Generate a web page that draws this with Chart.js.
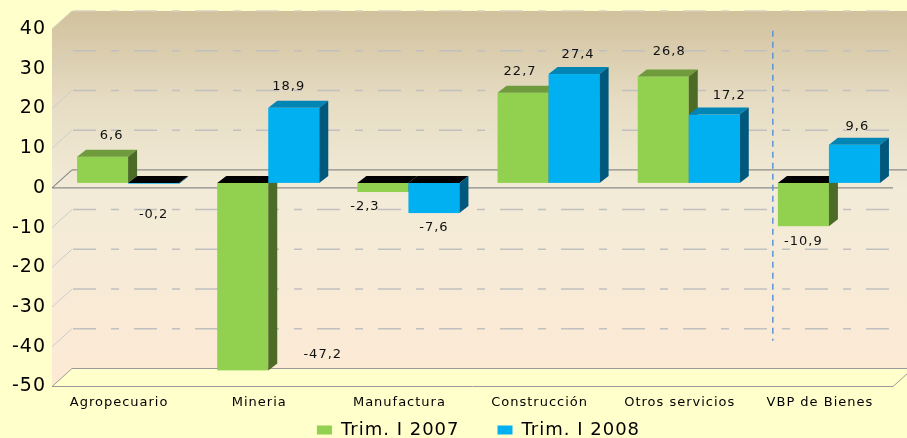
<!DOCTYPE html>
<html>
<head>
<meta charset="utf-8">
<script src="https://cdn.jsdelivr.net/npm/chart.js@4.4.1/dist/chart.umd.min.js"></script>
<style>
  html,body{margin:0;padding:0;background:#FFFFCC}
  #wrap{width:907px;height:438px}
</style>
</head>
<body>
<div id="wrap"><canvas id="chart" width="907" height="438"></canvas></div>
<script>
/* Variación por sector: Trim. I 2007 vs Trim. I 2008 */

var categories = ['Agropecuario','Mineria','Manufactura','Construcción','Otros servicios','VBP de Bienes'];
var trim2007   = [6.6, -47.2, -2.3, 22.7, 26.8, -10.9];
var trim2008   = [-0.2, 18.9, -7.6, 27.4, 17.2, 9.6];
var seriesNames = ['Trim. I 2007','Trim. I 2008'];
var yMin = -50, yMax = 40, yStep = 10;

// 3D look: offsets of the front edge / back wall from the bar plane, and bar depth
var FRONT = {dx:-6, dy:5};
var BACK  = {dx:14, dy:-13};
var DEPTH = {dx:9, dy:-7};
var FONT = '"DejaVu Sans", Verdana, sans-serif';

var faces = [
  {front:'#92D050', top:'#6F9B3C', side:'#4B6B27'},
  {front:'#00B0F0', top:'#0085B5', side:'#00587D'}
];

// small hand nudges for value labels (Excel placed a few of them oddly)
var labelNudge = [
  [[5,0],[80,-31],[-18,0],[-7,0],[2,-4],[0,0]],
  [[0,16],[-9,0],[0,0],[0,2],[11,2],[-1,3]]
];

function poly(ctx, pts, fill, stroke){
  ctx.beginPath();
  ctx.moveTo(pts[0][0], pts[0][1]);
  for(var i=1;i<pts.length;i++) ctx.lineTo(pts[i][0], pts[i][1]);
  ctx.closePath();
  if(fill){ ctx.fillStyle=fill; ctx.fill(); }
  if(stroke){ ctx.strokeStyle=stroke; ctx.lineWidth=1; ctx.stroke(); }
}

function fmt(v){ return v.toFixed(1).replace('.', ','); }

var scene3d = {
  id:'scene3d',
  beforeLayout:function(chart){ chart.ctx.letterSpacing='1px'; },
  afterLayout:function(chart){
    // legend: a bit right of centre and lower than Chart.js would put it
    var L=chart.legend;
    if(L){ L.left+=29; L.right+=29; L.top-=28; L.bottom=chart.height; }
  },
  beforeDraw:function(chart){
    var ctx=chart.ctx, a=chart.chartArea, ys=chart.scales.y;
    ctx.letterSpacing='1px';
    ctx.save();
    ctx.fillStyle='#FFFFCC';
    ctx.fillRect(0,0,chart.width,chart.height);

    var yT=ys.getPixelForValue(yMax), yB=ys.getPixelForValue(yMin);
    var bxL=a.left+BACK.dx, bxR=a.right+BACK.dx;
    var fxL=a.left+FRONT.dx, fxR=a.right+FRONT.dx;

    var g=ctx.createLinearGradient(0,yT+BACK.dy,0,yB+BACK.dy);
    g.addColorStop(0,'#D1C19D');
    g.addColorStop(0.25,'#E6DCC3');
    g.addColorStop(0.5,'#F2EBD7');
    g.addColorStop(1,'#FCEAD5');

    // back wall + left side wall
    poly(ctx,[[bxL,yT+BACK.dy],[bxR,yT+BACK.dy],[bxR,yB+BACK.dy],[bxL,yB+BACK.dy]],g);
    poly(ctx,[[fxL,yT+FRONT.dy],[bxL,yT+BACK.dy],[bxL,yB+BACK.dy],[fxL,yB+FRONT.dy]],g);
    ctx.strokeStyle='#D6CEBC'; ctx.lineWidth=1;
    ctx.beginPath(); ctx.moveTo(fxL,yT+FRONT.dy); ctx.lineTo(bxL,yT+BACK.dy); ctx.stroke();

    // gridlines on the back wall, diagonals on the side wall
    for(var v=yMin+yStep; v<=yMax; v+=yStep){
      if(v===0) continue;
      var py=ys.getPixelForValue(v);
      ctx.strokeStyle= v===yMax ? '#D8D0BE' : '#C0C0C0';
      ctx.lineWidth=1.5;
      ctx.setLineDash([23,15,8,15]);
      ctx.beginPath(); ctx.moveTo(bxL+1,py+BACK.dy); ctx.lineTo(a.right-3,py+BACK.dy); ctx.stroke();
      ctx.setLineDash([]);
      ctx.lineWidth=1;
      if(v!==yMax){
        ctx.strokeStyle='#CDCDCD';
        ctx.beginPath(); ctx.moveTo(fxL,py+FRONT.dy); ctx.lineTo(bxL,py+BACK.dy); ctx.stroke();
      }
    }

    // floor
    poly(ctx,[[fxL,yB+FRONT.dy],[fxR,yB+FRONT.dy],[bxR,yB+BACK.dy],[bxL,yB+BACK.dy]],'#FFFFCC','#9A9A9A');

    // zero plane edges
    var y0=ys.getPixelForValue(0);
    ctx.strokeStyle='#8C8C8C'; ctx.lineWidth=1.2;
    ctx.beginPath();
    ctx.moveTo(bxL,y0+BACK.dy); ctx.lineTo(chart.width,y0+BACK.dy);
    ctx.moveTo(fxL,y0+FRONT.dy); ctx.lineTo(fxR,y0+FRONT.dy);
    ctx.moveTo(fxL,y0+FRONT.dy); ctx.lineTo(bxL,y0+BACK.dy);
    ctx.stroke();
    ctx.restore();
  },
  beforeDatasetsDraw:function(chart){
    var ctx=chart.ctx;
    ctx.save();
    categories.forEach(function(c,i){
      chart.data.datasets.forEach(function(ds,d){
        var p=chart.getDatasetMeta(d).data[i].getProps(['x','y','base','width'],true);
        var v=ds.data[i], col=faces[d];
        var l=p.x-p.width/2, r=p.x+p.width/2;
        var t=Math.min(p.y,p.base), b=Math.max(p.y,p.base);
        ctx.fillStyle=col.front;
        ctx.fillRect(l,t,r-l,b-t);
        poly(ctx,[[l,t],[r,t],[r+DEPTH.dx,t+DEPTH.dy],[l+DEPTH.dx,t+DEPTH.dy]], v<0?'#000000':col.top);
        poly(ctx,[[r,t],[r+DEPTH.dx,t+DEPTH.dy],[r+DEPTH.dx,b+DEPTH.dy],[r,b]], col.side);
      });
    });
    ctx.restore();
    return false;
  },
  afterDraw:function(chart){
    var ctx=chart.ctx, xs=chart.scales.x, ys=chart.scales.y;
    ctx.save();
    // dashed separator before the total
    ctx.strokeStyle='#5B93D8'; ctx.lineWidth=1.5; ctx.setLineDash([6,5]);
    var sx=xs.getPixelForValue(4.5)+BACK.dx;
    ctx.beginPath();
    ctx.moveTo(sx, ys.getPixelForValue(35)+BACK.dy);
    ctx.lineTo(sx, ys.getPixelForValue(-43)+BACK.dy);
    ctx.stroke();
    ctx.setLineDash([]);

    // value labels
    ctx.font='13px '+FONT;
    ctx.fillStyle='#111';
    ctx.textAlign='center'; ctx.textBaseline='middle';
    chart.data.datasets.forEach(function(ds,d){
      chart.getDatasetMeta(d).data.forEach(function(bar,i){
        var v=ds.data[i], p=bar.getProps(['x','y','base'],true);
        var n=labelNudge[d][i];
        var lx, ly;
        if(v>=0){ lx=p.x+4; ly=Math.min(p.y,p.base)-21; }
        else { lx=p.x; ly=Math.max(p.y,p.base)+15; }
        ctx.fillText(fmt(v), lx+n[0], ly+n[1]);
      });
    });
    ctx.restore();
  }
};

Chart.defaults.color='#000';
Chart.defaults.font.family=FONT;

new Chart(document.getElementById('chart'), {
  type:'bar',
  data:{
    labels:categories,
    datasets:[
      {label:seriesNames[0], data:trim2007, backgroundColor:faces[0].front, borderColor:faces[0].front, borderWidth:0},
      {label:seriesNames[1], data:trim2008, backgroundColor:faces[1].front, borderColor:faces[1].front, borderWidth:0}
    ]
  },
  options:{
    responsive:false,
    animation:false,
    categoryPercentage:0.728,
    barPercentage:1,
    layout:{padding:{top:24,right:8,bottom:0,left:0}},
    plugins:{
      legend:{
        position:'bottom',
        maxHeight:27,
        labels:{boxWidth:15, boxHeight:9, padding:38, font:{size:18, family:FONT}, color:'#000'}
      },
      tooltip:{enabled:false}
    },
    scales:{
      x:{
        grid:{display:false}, border:{display:false},
        ticks:{font:{size:13}, color:'#000', padding:5, labelOffset:-9, maxRotation:0, autoSkip:false},
        afterFit:function(s){ s.height=29.5; }
      },
      y:{
        min:yMin, max:yMax,
        grid:{display:false, drawTicks:false}, border:{display:false},
        ticks:{stepSize:yStep, font:{size:19}, color:'#000', padding:12, labelOffset:5},
        afterFit:function(s){ s.width=58; }
      }
    }
  },
  plugins:[scene3d]
});
</script>
</body>
</html>
